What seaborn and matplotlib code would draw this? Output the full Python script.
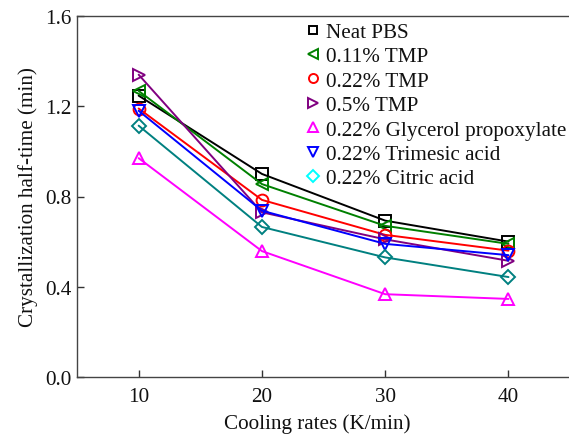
import matplotlib
matplotlib.use("Agg")
import matplotlib.pyplot as plt
import seaborn as sns
import pandas as pd
from matplotlib.lines import Line2D

rates = [10, 20, 30, 40]
neat_pbs = [1.247, 0.90, 0.693, 0.60]
tmp_011 = [1.268, 0.855, 0.67, 0.59]
tmp_022 = [1.19, 0.785, 0.63, 0.56]
tmp_05 = [1.34, 0.73, 0.61, 0.515]
glycerol = [0.97, 0.558, 0.367, 0.346]
trimesic = [1.18, 0.737, 0.59, 0.54]
citric = [1.114, 0.665, 0.53, 0.443]

labels = ["Neat PBS", "0.11% TMP", "0.22% TMP", "0.5% TMP",
          "0.22% Glycerol propoxylate", "0.22% Trimesic acid", "0.22% Citric acid"]
series = [neat_pbs, tmp_011, tmp_022, tmp_05, glycerol, trimesic, citric]

sns.set_theme(style="white")
plt.rcParams['font.family'] = ['Liberation Serif', 'DejaVu Serif']

line_colors = ["#000000", "#008000", "#ff0000", "#800080", "#ff00ff", "#0000ff", "#008080"]
legend_colors = ["#000000", "#008000", "#ff0000", "#800080", "#ff00ff", "#0000ff", "#00ffff"]
markers = ["s", "<", "o", ">", "^", "v", "D"]
msizes = [8, 9, 8.5, 9, 9, 9, 7.5]
leg_sizes = [6, 7, 6.5, 7, 7, 7, 6]

FS = 15.2
fig = plt.figure(figsize=(5.69, 4.35), dpi=100)
ax = fig.add_axes([77/569, 1-378/435, 1-77/569 + 0.002, (378-17)/435])

for lab, vals, c, m, ms in zip(labels, series, line_colors, markers, msizes):
    df = pd.DataFrame({"rate": rates, "t": vals})
    sns.lineplot(data=df, x="rate", y="t", ax=ax, color=c, marker=m,
                 markersize=ms, markerfacecolor="none", markeredgecolor=c,
                 markeredgewidth=1.4, linewidth=1.4, legend=False)

ax.set_xlim(5, 45)
ax.set_ylim(0, 1.6)
ax.set_xticks([10, 20, 30, 40])
ax.set_yticks([0.0, 0.4, 0.8, 1.2, 1.6])
ax.set_yticklabels(["0.0", "0.4", "0.8", "1.2", "1.6"])
ax.tick_params(axis="both", direction="in", length=5, width=1, labelsize=FS,
               colors="#333333", labelcolor="#111111", left=True, bottom=True)
ax.tick_params(axis="x", pad=7)
ax.tick_params(axis="y", pad=4)
for s in ["left", "bottom", "top"]:
    ax.spines[s].set_color("#444444")
    ax.spines[s].set_linewidth(1.0)
ax.spines["right"].set_visible(False)
ax.set_xlabel("Cooling rates (K/min)", fontsize=FS, color="#111111")
ax.xaxis.set_label_coords(0.488, -0.1, transform=ax.transAxes)
ax.xaxis.label.set_verticalalignment("top")
ax.set_ylabel("Crystallization half-time (min)", fontsize=FS, color="#111111", labelpad=5)

handles = [Line2D([], [], linestyle="none", marker=m, markersize=ms,
                  markerfacecolor="none", markeredgecolor=c, markeredgewidth=1.4)
           for c, m, ms in zip(legend_colors, markers, leg_sizes)]
leg = ax.legend(handles, labels, loc="upper left", bbox_to_anchor=(0.4665, 0.983),
                frameon=False, fontsize=FS, handlelength=0.6, handletextpad=0.3,
                labelspacing=0.22, borderaxespad=0.0, borderpad=0.0)
for t in leg.get_texts():
    t.set_color("#111111")

fig.savefig("out.png", dpi=100)
